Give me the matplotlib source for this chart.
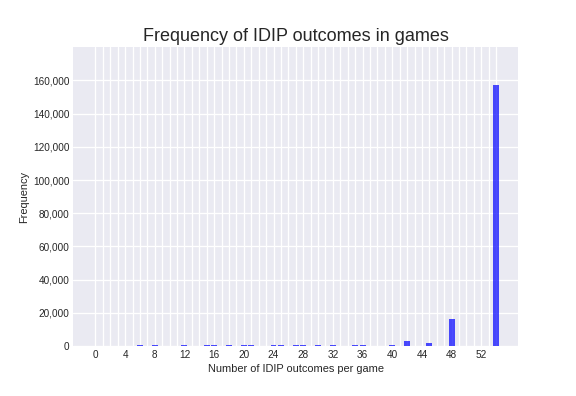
import matplotlib
matplotlib.use("Agg")
import matplotlib.pyplot as plt
from matplotlib.ticker import FuncFormatter

outcomes = [6, 8, 12, 15, 16, 18, 20, 21, 24, 25, 27, 28, 30, 32, 35, 36, 40, 42, 45, 48, 54]
frequency = [800, 800, 800, 800, 800, 800, 800, 800, 800, 800, 800, 800, 800, 800, 800, 800, 900,
             3000, 1800, 16600, 157400]
tick_positions = list(range(0, 55))
tick_labels = [str(t) if t % 4 == 0 else "" for t in tick_positions]

plt.style.use("seaborn-v0_8-darkgrid")
plt.rcParams['font.family'] = ['Liberation Sans', 'DejaVu Sans']

fig = plt.figure(figsize=(8, 5.5), dpi=72)
ax = fig.add_axes([0.127, 0.126, 0.773, 0.755])

ax.bar(outcomes, frequency, width=0.8, color='blue', alpha=0.7, linewidth=0)
ax.set_xticks(tick_positions)
ax.set_xticklabels(tick_labels, fontsize=10)
ax.set_xlim(-3, 57)
ax.set_ylim(0, 180000)
ax.set_yticks(range(0, 160001, 20000))
ax.yaxis.set_major_formatter(FuncFormatter(lambda v, p: f"{int(v):,}"))
ax.tick_params(axis='y', labelsize=10)
ax.grid(True, color='white', linewidth=1.3)
ax.set_axisbelow(True)
ax.set_xlabel("Number of IDIP outcomes per game", fontsize=11)
ax.set_ylabel("Frequency", fontsize=11)
ax.set_title("Frequency of IDIP outcomes in games", fontsize=18)

fig.savefig("out.png", dpi=72)
